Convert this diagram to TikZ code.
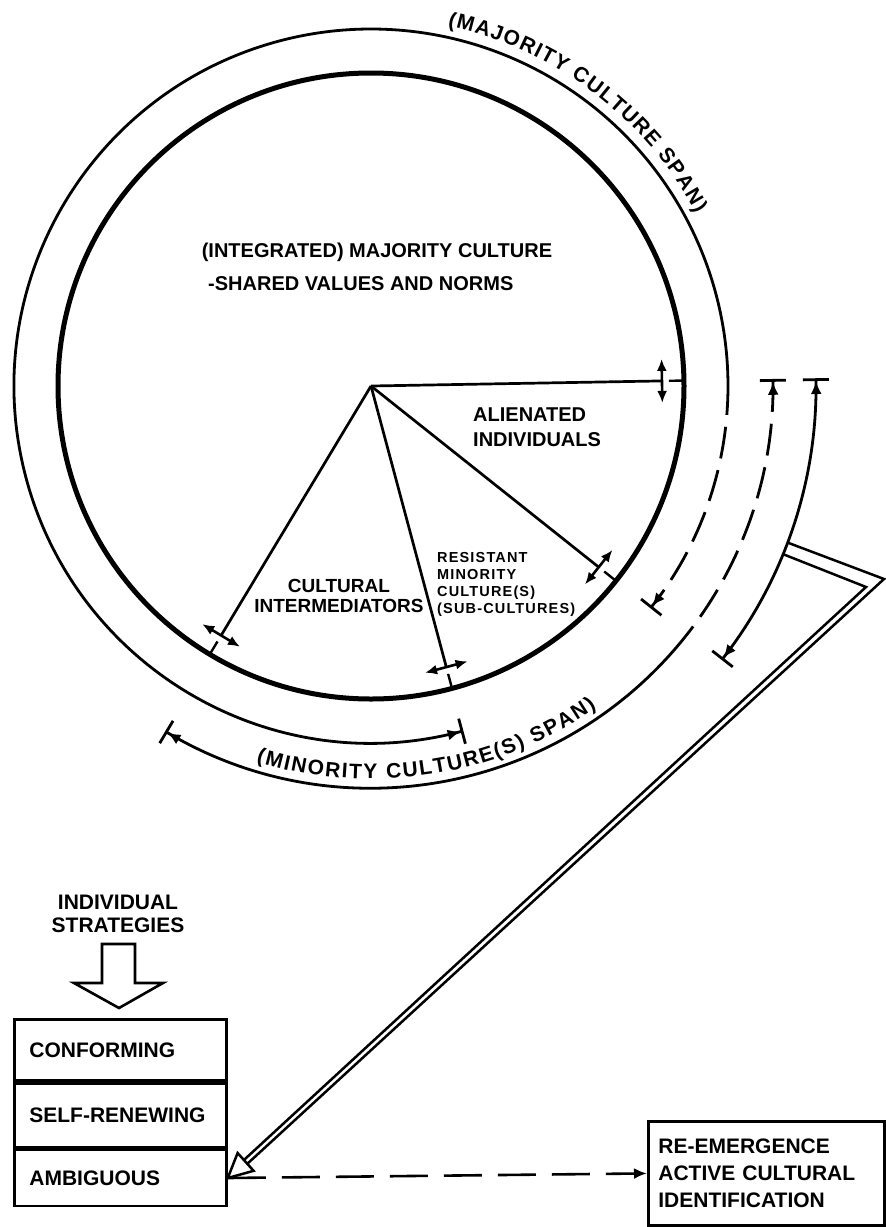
\documentclass[tikz,border=0pt]{standalone}
\usepackage{fontspec}
\setmainfont{Liberation Sans}
\newfontfamily\myspacedfam[LetterSpace=8]{Liberation Sans}
\usetikzlibrary{arrows.meta,decorations.text,calc}
\newcommand\myboxf{\fontsize{21}{27}\selectfont\bfseries}
\newcommand\mymidf{\fontsize{20}{25}\selectfont\bfseries}
\newcommand\myintf{\fontsize{19}{20}\selectfont\bfseries}
\newcommand\mysmallf{\myspacedfam\fontsize{14.5}{17}\selectfont\bfseries}
\newcommand\myarcf{\fontsize{21}{25}\selectfont\bfseries}
\begin{document}
\begin{tikzpicture}[x=1pt,y=1pt,
  circ/.style={line width=5pt},
  arcl/.style={line width=2.8pt},
  ray/.style={line width=2.7pt},
  dashes/.style={dash pattern=on 32pt off 12pt},
  tng/.style={line width=2.6pt,arrows={Latex[length=12pt,width=10pt]-Latex[length=12pt,width=10pt]}},
  tickl/.style={line width=2.4pt},
  spboth/.style={arrows={Bar[width=26pt]Latex[length=13pt,width=11pt]-Latex[length=13pt,width=11pt]Bar[width=26pt]}},
  spstart/.style={arrows={Bar[width=26pt]Latex[length=13pt,width=11pt]-}},
  spend/.style={arrows={-Latex[length=13pt,width=11pt]Bar[width=26pt]}},
  lbl/.style={inner sep=0pt},
  bx/.style={draw, line width=2.8pt, fill=white},
  dblline/.style={line width=2.5pt, line join=miter}
]
\useasboundingbox (0,0) rectangle (886,-1227);
\coordinate (C) at (371,-386);

% inner circle
\draw[circ] (C) circle[radius=313];

% majority culture span (outer)
\draw[arcl, spstart] ($(C)+(-75:357)$) arc[start angle=-75, end angle=-359.5, radius=357];
\draw[arcl, dashes, spend] ($(C)+(0.5:357)$) arc[start angle=0.5, end angle=-38.5, radius=357];

% minority culture span
\draw[arcl, spstart] ($(C)+(-120.8:402)$) arc[start angle=-120.8, end angle=-41.3, radius=402];
\draw[arcl, dashes, spend] ($(C)+(-41.3:402)$) arc[start angle=-41.3, end angle=1, radius=402];

% third span
\draw[arcl, spboth] ($(C)+(1:445)$) arc[start angle=1, end angle=-38, radius=445];

% rays with tangent double arrows and ticks
\foreach \a in {1,-38.5,-75,-121}{
  \draw[ray] (C) -- ($(C)+(\a:291)$);
  \draw[tng] ($(C)+(\a:291)+({\a+90}:22)$) -- ($(C)+(\a:291)+({\a-90}:22)$);
  \draw[tickl] ($(C)+(\a:298)$) -- ($(C)+(\a:312)$);
}

% arc texts
\path[decorate, decoration={text along path, text={|\myarcf|(MAJORITY CULTURE SPAN)}, text align=fit to path}]
  ($(C)+(78:368)$) arc[start angle=78, end angle=28, radius=368];
\path[decorate, decoration={text along path, text={|\myarcf|(MINORITY CULTURE(S) SPAN)}, text align=fit to path}]
  ($(C)+(-107:393)$) arc[start angle=-107, end angle=-55, radius=393];

% inner labels
\node[lbl, font=\mymidf] (maj1) at (377,-252) {(INTEGRATED) MAJORITY CULTURE};
\node[lbl, font=\mymidf, anchor=west] (maj2) at (208,-284) {-SHARED VALUES AND NORMS};
\node[lbl, font=\mymidf, anchor=west, align=left] (alien) at (473,-427) {ALIENATED\\INDIVIDUALS};
\node[lbl, font=\myintf, align=center] (inter) at (339,-596) {CULTURAL\\INTERMEDIATORS};
\node[lbl, font=\mysmallf, anchor=west, align=left] (resist) at (437,-584) {RESISTANT\\MINORITY\\CULTURE(S)\\(SUB-CULTURES)};

% individual strategies
\node[lbl, font={\fontsize{21}{23}\selectfont\bfseries}, align=center] (strat) at (118,-914) {INDIVIDUAL\\STRATEGIES};
\draw[line width=2.6pt, fill=white, line join=miter] (102,-944) -- (135,-944) -- (135,-983) -- (163,-983) -- (119,-1008) -- (74,-983) -- (102,-983) -- cycle;

\node[bx, font=\myboxf, anchor=north west, minimum width=212pt, minimum height=61pt, text width=182pt, inner xsep=15pt, align=left] (conf) at (13,-1018) {CONFORMING};
\node[bx, font=\myboxf, anchor=north, minimum width=212pt, minimum height=64pt, text width=182pt, inner xsep=15pt, align=left] (self) at (conf.south) {SELF-RENEWING};
\node[bx, font=\myboxf, anchor=north, minimum width=212pt, minimum height=56pt, text width=182pt, inner xsep=15pt, align=left] (amb) at (self.south) {AMBIGUOUS};

\node[bx, font=\myboxf, anchor=north west, minimum width=236pt, minimum height=104pt, text width=216pt, inner xsep=10pt, align=left] (reem) at (647,-1120) {RE-EMERGENCE\\ACTIVE CULTURAL\\IDENTIFICATION};

\draw[line width=2.6pt, dash pattern=on 38pt off 16pt, -{Latex[length=13pt,width=11pt]}] (amb.east) -- (reem.west);

% double line arrow from third span to ambiguous
\coordinate (tip) at (amb.east);
\coordinate (dA) at ($(C)+(-20.6:445)$);
\coordinate (dB) at ($(C)+(-22.2:445)$);
\coordinate (cA) at (884,-579);
\coordinate (cB) at (866,-587);
\draw[dblline] (dA) -- (cA) -- ($(tip)+(19.5,14.2)$);
\draw[dblline] (dB) -- (cB) -- ($(tip)+(16.1,18.0)$);
\draw[dblline, fill=white] (tip) -- ($(tip)+(25.8,7.2)$) -- ($(tip)+(9.8,25.0)$) -- cycle;
\end{tikzpicture}
\end{document}
